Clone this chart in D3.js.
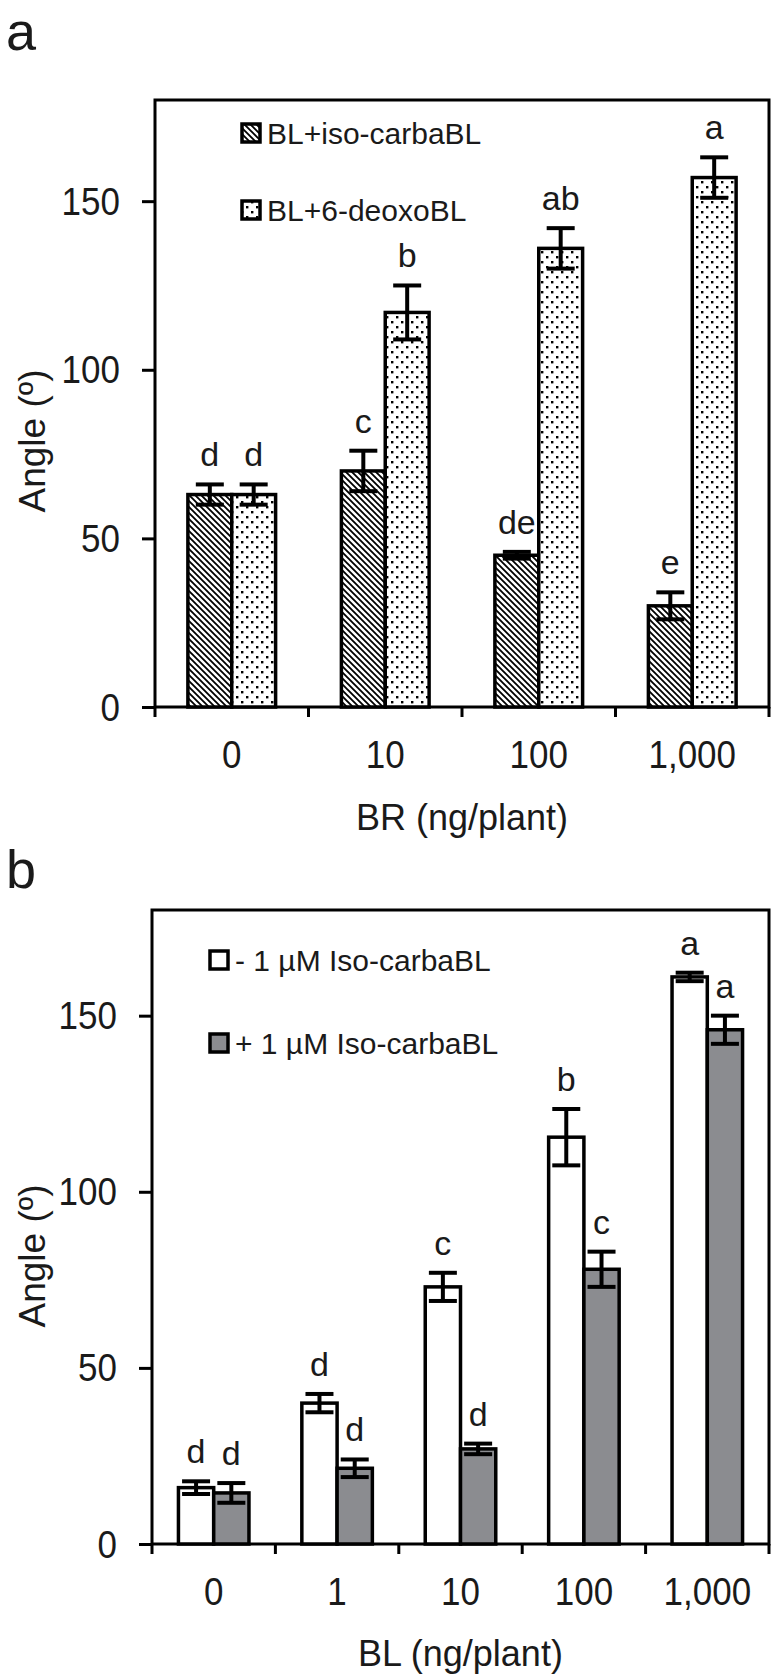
<!DOCTYPE html>
<html>
<head>
<meta charset="utf-8">
<script src="https://cdn.jsdelivr.net/npm/d3@7"></script>
<style>
  html, body { margin: 0; padding: 0; background: #fff; }
  svg { display: block; font-family: "Liberation Sans", Arial, sans-serif; }
</style>
</head>
<body>
<svg id="chart" width="774" height="1680"></svg>
<script>
// ---------- Panel a data ----------
const catsA = ["0", "10", "100", "1,000"];
const seriesNamesA = ["BL+iso-carbaBL", "BL+6-deoxoBL"];
const isoA = [63, 70, 45, 30];
const isoErrA = [3, 6, 1, 4];
const deoxoA = [63, 117, 136, 157];
const deoxoErrA = [3, 8, 6, 6];
const isoLabA = ["d", "c", "de", "e"];
const deoxoLabA = ["d", "b", "ab", "a"];

// ---------- Panel b data ----------
const catsB = ["0", "1", "10", "100", "1,000"];
const seriesNamesB = ["- 1 \u00B5M Iso-carbaBL", "+ 1 \u00B5M Iso-carbaBL"];
const minusB = [16, 40, 73, 115.5, 161];
const minusErrB = [1.8, 2.6, 4, 8, 1.2];
const plusB = [14.5, 21.5, 27, 78, 146];
const plusErrB = [2.8, 2.5, 1.5, 5, 4];
const minusLabB = ["d", "d", "c", "b", "a"];
const plusLabB = ["d", "d", "d", "c", "a"];

const yTicks = [0, 50, 100, 150];
const yDomain = [0, 180];

const svg = d3.select("#chart");
const defs = svg.append("defs");

// hatch pattern (diagonal "\")
const hatch = defs.append("pattern").attr("id", "hatch")
  .attr("patternUnits", "userSpaceOnUse").attr("width", 6).attr("height", 6);
hatch.append("rect").attr("width", 6).attr("height", 6).attr("fill", "#fff");
hatch.append("path").attr("d", "M-1,-1 L7,7 M-4,2 L2,8 M4,-2 L8,2")
  .attr("stroke", "#000").attr("stroke-width", 1.8);

// dots pattern
const dots = defs.append("pattern").attr("id", "dots")
  .attr("patternUnits", "userSpaceOnUse").attr("width", 10).attr("height", 10);
dots.append("rect").attr("width", 10).attr("height", 10).attr("fill", "#fff");
dots.append("rect").attr("x", 1).attr("y", 1).attr("width", 2.4).attr("height", 2.4).attr("fill", "#000");
dots.append("rect").attr("x", 6).attr("y", 6).attr("width", 2.4).attr("height", 2.4).attr("fill", "#000");

const TXT = "#1a1a1a";

function panel(cfg) {
  const x = d3.scaleBand().domain(cfg.cats).range([cfg.left, cfg.right]).padding(0);
  const y = d3.scaleLinear().domain(yDomain).range([cfg.bottom, cfg.top]);
  const groupW = x.bandwidth() * 2 / 3.5;
  const xs = d3.scaleBand().domain([0, 1]).range([0, groupW]).padding(0);

  const g = svg.append("g");

  // frame
  g.append("rect")
    .attr("x", cfg.left).attr("y", cfg.top)
    .attr("width", cfg.right - cfg.left).attr("height", cfg.bottom - cfg.top)
    .attr("fill", "none").attr("stroke", "#000").attr("stroke-width", 3);

  // y axis
  const yAxis = d3.axisLeft(y).tickValues(yTicks).tickSize(13).tickPadding(0).tickFormat(d3.format("d"));
  const ya = g.append("g").attr("transform", `translate(${cfg.left},0)`).call(yAxis);
  ya.select(".domain").remove();
  ya.selectAll(".tick line").attr("stroke", "#000").attr("stroke-width", 3);
  ya.selectAll(".tick text")
    .attr("font-size", 35).attr("fill", TXT)
    .attr("font-family", "'Liberation Sans', Arial, sans-serif")
    .attr("x", 0).attr("dy", null)
    .attr("transform", "translate(-35,0) scale(1,1.1)")
    .attr("y", 0).attr("dominant-baseline", "central");

  // x ticks at category boundaries
  const bounds = cfg.cats.map(c => x(c)).concat([cfg.right]);
  g.selectAll(".xt").data(bounds).enter().append("line")
    .attr("x1", d => d).attr("x2", d => d)
    .attr("y1", cfg.bottom).attr("y2", cfg.bottom + 10)
    .attr("stroke", "#000").attr("stroke-width", 3);

  // x tick labels
  g.selectAll(".xl").data(cfg.cats).enter().append("text")
    .attr("transform", d => `translate(${x(d) + x.bandwidth() / 2},${cfg.bottom + 61}) scale(1,1.1)`)
    .attr("text-anchor", "middle").attr("font-size", 35).attr("fill", TXT)
    .text(d => d);

  // bars
  cfg.series.forEach((s, si) => {
    const data = cfg.cats.map((c, i) => ({ c, v: s.vals[i], e: s.errs[i], l: s.labs[i] }));
    const bx = d => x(d.c) + (x.bandwidth() - groupW) / 2 + xs(si);
    g.selectAll(".bar" + si).data(data).enter().append("rect")
      .attr("x", bx).attr("y", d => y(d.v))
      .attr("width", xs.bandwidth()).attr("height", d => y(0) - y(d.v))
      .attr("fill", s.fill).attr("stroke", "#000").attr("stroke-width", 3.5);
    const capW = 28;
    data.forEach(d => {
      const cx = bx(d) + xs.bandwidth() / 2;
      g.append("line").attr("x1", cx).attr("x2", cx)
        .attr("y1", y(d.v + d.e)).attr("y2", y(d.v - d.e))
        .attr("stroke", "#000").attr("stroke-width", 4);
      [d.v + d.e, d.v - d.e].forEach(v => {
        g.append("line").attr("x1", cx - capW / 2).attr("x2", cx + capW / 2)
          .attr("y1", y(v)).attr("y2", y(v))
          .attr("stroke", "#000").attr("stroke-width", 4);
      });
      g.append("text").attr("x", cx).attr("y", y(d.v + d.e) - 18)
        .attr("text-anchor", "middle").attr("font-size", 34).attr("fill", TXT)
        .text(d.l);
    });
  });

  // legend
  cfg.series.forEach((s, si) => {
    const ly = cfg.legendY[si];
    g.append("rect").attr("x", cfg.legendX).attr("y", ly - 9)
      .attr("width", 18).attr("height", 18)
      .attr("fill", s.legendFill || s.fill).attr("stroke", "#000").attr("stroke-width", 3.5);
    g.append("text").attr("x", cfg.legendX + 25).attr("y", ly + 11)
      .attr("font-size", 30).attr("fill", TXT).text(s.name);
  });

  // axis titles
  g.append("text").attr("x", (cfg.left + cfg.right) / 2).attr("y", cfg.xTitleY)
    .attr("text-anchor", "middle").attr("font-size", 36).attr("fill", TXT)
    .text(cfg.xTitle);
  g.append("text")
    .attr("transform", `translate(45,${cfg.yTitleY}) rotate(-90)`)
    .attr("text-anchor", "middle").attr("font-size", 37).attr("fill", TXT)
    .text("Angle (\u00BA)");

  // panel letter
  g.append("text").attr("x", 6).attr("y", cfg.letterY)
    .attr("font-size", 54).attr("fill", TXT).text(cfg.letter);
}

panel({
  letter: "a", letterY: 50,
  cats: catsA, left: 155, right: 769, top: 100, bottom: 707,
  series: [
    { name: seriesNamesA[0], vals: isoA, errs: isoErrA, labs: isoLabA, fill: "url(#hatch)" },
    { name: seriesNamesA[1], vals: deoxoA, errs: deoxoErrA, labs: deoxoLabA, fill: "url(#dots)" }
  ],
  legendX: 242, legendY: [133, 210],
  xTitle: "BR (ng/plant)", xTitleY: 830, yTitleY: 441
});

panel({
  letter: "b", letterY: 888,
  cats: catsB, left: 152, right: 769, top: 910, bottom: 1544,
  series: [
    { name: seriesNamesB[0], vals: minusB, errs: minusErrB, labs: minusLabB, fill: "#fff" },
    { name: seriesNamesB[1], vals: plusB, errs: plusErrB, labs: plusLabB, fill: "#8b8c90" }
  ],
  legendX: 210, legendY: [960, 1043],
  xTitle: "BL (ng/plant)", xTitleY: 1666, yTitleY: 1256
});
</script>
</body>
</html>
